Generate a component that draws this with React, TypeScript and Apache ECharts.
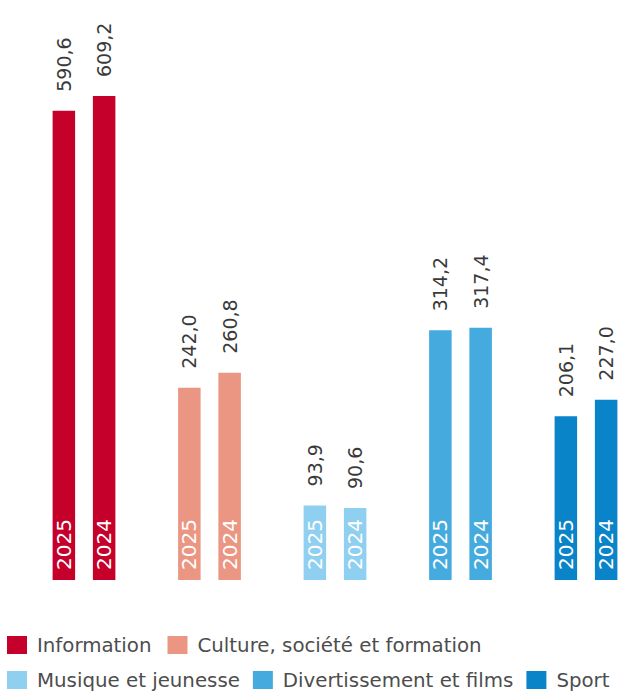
import React, { useEffect, useRef } from "react";
import * as echarts from "echarts";

const categories = [
  "Information",
  "Culture, société et formation",
  "Musique et jeunesse",
  "Divertissement et films",
  "Sport",
];
const values2025 = [590.6, 242.0, 93.9, 314.2, 206.1];
const values2024 = [609.2, 260.8, 90.6, 317.4, 227.0];
const yearLabels = ["2025", "2024"];
const colors = ["#c4002b", "#eb9583", "#8fd0f1", "#45abde", "#0a84c9"];
const legendRow1 = categories.slice(0, 2);
const legendRow2 = categories.slice(2);

const FONT = "DejaVu Sans";
const fmt = (v: number) => v.toFixed(1).replace(".", ",");

export default function App() {
  const ref = useRef<HTMLDivElement>(null);
  useEffect(() => {
    if (!ref.current) return;
    const chart = echarts.init(ref.current, null, { renderer: "svg" });

    const mainSeries = (name: string, vals: number[], stack: string) => ({
      type: "bar",
      name,
      stack,
      barWidth: 22.5,
      barGap: "79%",
      data: vals.map((v, i) => ({ value: v, itemStyle: { color: colors[i] } })),
      label: {
        show: true,
        position: "insideBottom",
        rotate: 90,
        align: "left",
        verticalAlign: "middle",
        distance: 10,
        color: "#ffffff",
        fontFamily: FONT,
        fontSize: 20,
        formatter: () => name,
      },
    });
    const topSeries = (vals: number[], stack: string) => ({
      type: "bar",
      stack,
      barWidth: 22.5,
      barGap: "79%",
      data: vals.map(() => 0),
      itemStyle: { color: "transparent" },
      label: {
        show: true,
        position: "top",
        rotate: 90,
        align: "left",
        verticalAlign: "middle",
        distance: 19,
        color: "#3a3a3a",
        fontFamily: FONT,
        fontSize: 19,
        formatter: (p: any) => fmt(vals[p.dataIndex]),
      },
    });

    const legendBase = {
      left: 7,
      width: 700,
      padding: 0,
      icon: "rect",
      itemWidth: 20,
      itemHeight: 18,
      selectedMode: false,
      textStyle: {
        color: "#4d4d4d",
        fontFamily: FONT,
        fontSize: 19.8,
        padding: [0, 0, 0, 5],
      },
    };

    chart.setOption({
      animation: false,
      grid: {
        left: 21.25,
        top: 23.85,
        width: 627.5,
        height: 556.15,
        outerBoundsMode: "none",
        containLabel: false,
      },
      xAxis: {
        type: "category",
        data: categories,
        show: false,
      },
      yAxis: {
        type: "value",
        min: 0,
        max: 700,
        show: false,
        splitLine: { show: false },
      },
      legend: [
        {
          ...legendBase,
          top: 635,
          itemGap: 16,
          data: legendRow1.map((n) => ({
            name: n,
            itemStyle: { color: colors[categories.indexOf(n)] },
          })),
        },
        {
          ...legendBase,
          top: 670,
          itemGap: 13,
          data: legendRow2.map((n) => ({
            name: n,
            itemStyle: { color: colors[categories.indexOf(n)] },
          })),
        },
      ],
      series: [
        mainSeries(yearLabels[0], values2025, "a"),
        topSeries(values2025, "a"),
        mainSeries(yearLabels[1], values2024, "b"),
        topSeries(values2024, "b"),
        ...categories.map((n, i) => ({
          type: "line",
          name: n,
          data: [],
          itemStyle: { color: colors[i] },
          lineStyle: { color: colors[i] },
        })),
      ],
    });
    return () => chart.dispose();
  }, []);
  return (
    <div
      ref={ref}
      style={{ position: "absolute", left: 0, top: 0, width: 618, height: 695 }}
    />
  );
}
